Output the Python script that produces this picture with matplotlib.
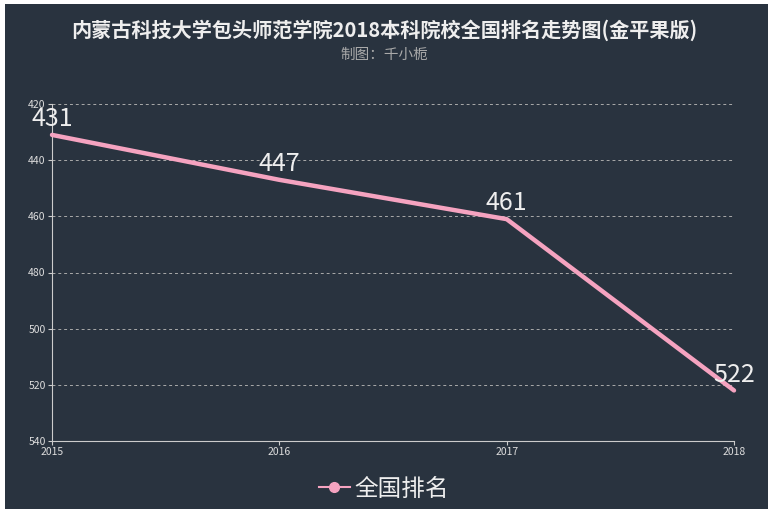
import matplotlib.pyplot as plt
from matplotlib.patches import Rectangle
from matplotlib.lines import Line2D

plt.rcParams['font.family'] = ['Noto Sans CJK SC', 'DejaVu Sans']

years = [2015, 2016, 2017, 2018]
ranks = [431, 447, 461, 522]
yticks = [420, 440, 460, 480, 500, 520, 540]
title = '内蒙古科技大学包头师范学院2018本科院校全国排名走势图(金平果版)'
subtitle = '制图：千小栀'
series_name = '全国排名'

bg = '#29333f'
pink = '#f5a3c0'
axis_col = '#cccccc'

fig = plt.figure(figsize=(7.68, 5.13), dpi=100)
fig.patch.set_facecolor('white')
fig.patches.append(Rectangle((5 / 768, 4 / 513), 1, 505 / 513, transform=fig.transFigure,
                             facecolor=bg, edgecolor='none', zorder=0))

ax = fig.add_axes([52 / 768, 1 - 441 / 513, (734 - 52) / 768, (441 - 104) / 513])
ax.set_zorder(2)
ax.set_facecolor('none')
ax.plot(years, ranks, color=pink, linewidth=3.2, solid_capstyle='round', clip_on=False, zorder=3)
for x, y in zip(years, ranks):
    ax.annotate(str(y), (x, y), xytext=(0, 2), textcoords='offset points',
                ha='center', va='bottom', fontsize=18, color='#eeeeee', zorder=4)

ax.set_xlim(2015, 2018)
ax.set_ylim(540, 420)
ax.set_xticks(years)
ax.set_yticks(yticks)
ax.tick_params(colors=axis_col, labelsize=7.5, length=3, width=0.8, pad=1.5)
for lbl in ax.get_xticklabels() + ax.get_yticklabels():
    lbl.set_color('#dddddd')
for v in yticks[:-1]:
    ax.axhline(v, color='#aaaaaa', linestyle=(0, (3, 3)), linewidth=0.7, zorder=1)
for s in ['top', 'right']:
    ax.spines[s].set_visible(False)
for s in ['left', 'bottom']:
    ax.spines[s].set_color(axis_col)
    ax.spines[s].set_linewidth(0.8)

fig.text(0.5, 1 - 30 / 513, title, ha='center', va='center', fontsize=14.5,
         fontweight='bold', color='#eeeeee', zorder=3)
fig.text(0.5, 1 - 55 / 513, subtitle, ha='center', va='center', fontsize=10.5,
         color='#aaaaaa', zorder=3)

handle = Line2D([0], [0], color=pink, linewidth=1.5, marker='o', markersize=7)
leg = fig.legend([handle], [series_name], loc='center', bbox_to_anchor=(0.5, 1 - 489 / 513),
                 frameon=False, fontsize=17, handlelength=1.3, handletextpad=0.2)
leg.set_zorder(3)
for t in leg.get_texts():
    t.set_color('#eeeeee')

fig.savefig('out.png', dpi=100)
